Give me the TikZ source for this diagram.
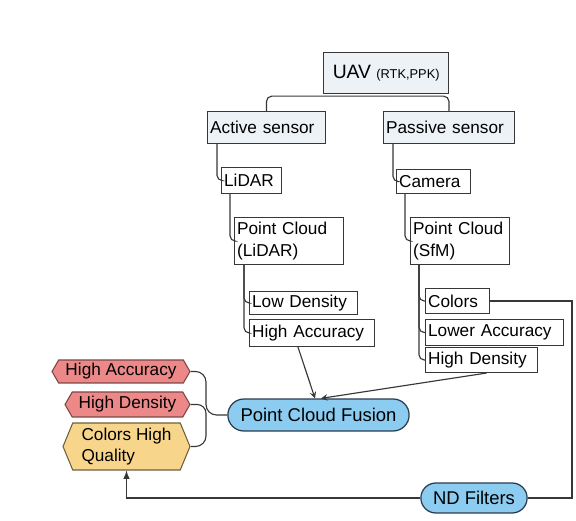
\documentclass[tikz,border=0pt]{standalone}
\usepackage{fontspec}
\setmainfont{Liberation Sans}
\usetikzlibrary{shapes.symbols,shapes.misc}
\definecolor{linegray}{RGB}{55,55,55}
\definecolor{boxgray}{RGB}{236,242,246}
\definecolor{redfill}{RGB}{236,136,136}
\definecolor{redline}{RGB}{125,70,70}
\definecolor{yelfill}{RGB}{247,214,140}
\definecolor{yelline}{RGB}{110,95,60}
\definecolor{bluefill}{RGB}{140,204,240}
\definecolor{blueline}{RGB}{40,58,78}
\tikzset{
	box/.style={draw=linegray,line width=0.6pt,fill=white,anchor=north west,inner xsep=1.5pt,inner ysep=1pt,align=left,font=\fontsize{9.8}{12.5}\selectfont},
	topbox/.style={box,fill=boxgray},
	outp/.style={signal,signal to=west and east,signal pointer angle=120,line width=0.6pt,inner sep=1pt,font=\fontsize{9.8}{12}\selectfont},
	proc/.style={rounded rectangle,draw=blueline,fill=bluefill,line width=0.7pt,font=\fontsize{10.5}{12}\selectfont},
	link/.style={draw=linegray,line width=0.65pt,rounded corners=3pt}
}
\begin{document}
\begin{tikzpicture}[x=0.02cm,y=-0.02cm,>=stealth]
			\useasboundingbox (0,0) rectangle (576,521);
			% sensors tree
			\node[topbox,anchor=north west,align=center,minimum width=2.5cm,minimum height=0.82cm,line width=0.8pt] (uav) at (323,52) {\fontsize{11}{13}\selectfont UAV \fontsize{7.3}{9}\selectfont(RTK,PPK)};
			\node[topbox,text width=64.1pt,minimum height=0.64cm] (act) at (207,111) {Active sensor};
			\node[topbox,text width=71.5pt,minimum height=0.64cm] (pas) at (383,111) {Passive sensor};
			\node[box,text width=31.1pt,minimum height=0.52cm] (lidar) at (221,167) {LiDAR};
			\node[box,text width=59pt,minimum height=0.94cm] (pcl) at (234,217) {Point Cloud\\(LiDAR)};
			\node[box,text width=58.4pt,minimum height=0.46cm] (lowd) at (249,291) {Low Density};
			\node[box,text width=68.1pt,minimum height=0.54cm] (hacc) at (249,319) {High Accuracy};
			\node[box,text width=39.1pt,minimum height=0.48cm] (cam) at (396,169) {Camera};
			\node[box,text width=53.3pt,minimum height=0.94cm] (pcs) at (410,217) {Point Cloud\\(SfM)};
			\node[box,text width=33.4pt,minimum height=0.5cm] (col) at (425,288) {Colors};
			\node[box,text width=75.5pt,minimum height=0.52cm] (lacc) at (425,319) {Lower Accuracy};
			\node[box,text width=60.7pt,minimum height=0.5cm] (hden) at (425,347) {High Density};
			\draw[link] ([yshift=-1pt]uav.south) -| (act.north);
			\draw[link] ([yshift=-1pt]uav.south) -| (pas.north);
			\draw[link] ([xshift=0.2cm]act.south west) |- (lidar.west);
			\draw[link] ([xshift=0.18cm]lidar.south west) |- (pcl.west);
			\draw[link] ([xshift=0.2cm]pcl.south west) |- (lowd.west);
			\draw[link] ([xshift=0.2cm]pcl.south west) |- (hacc.west);
			\draw[link] ([xshift=0.2cm]pas.south west) |- (cam.west);
			\draw[link] ([xshift=0.18cm]cam.south west) |- (pcs.west);
			\draw[link] ([xshift=0.18cm]pcs.south west) |- (col.west);
			\draw[link] ([xshift=0.18cm]pcs.south west) |- (lacc.west);
			\draw[link] ([xshift=0.18cm]pcs.south west) |- (hden.west);
			% fusion and results
			\node[proc,minimum width=3.86cm,minimum height=0.64cm] (pcf) at (318.5,415) {Point Cloud Fusion};
			\node[proc,minimum width=2.36cm,minimum height=0.6cm] (ndf) at (474,498) {ND Filters};
			\node[outp,draw=redline,fill=redfill,minimum width=2.76cm,minimum height=0.46cm] (oha) at (121,371.5) {High Accuracy};
			\node[outp,draw=redline,fill=redfill,minimum width=2.5cm,minimum height=0.5cm] (ohd) at (127.5,404.5) {High Density};
			\node[outp,draw=yelline,fill=yelfill,signal pointer angle=135,minimum width=2.54cm,minimum height=0.94cm,align=left] (ochq) at (126.5,446.5) {Colors High\\Quality};
			\coordinate (bus) at (206,415);
			\draw[link,->] ([xshift=-0.28cm]hacc.south) -- ([xshift=-0.07cm]pcf.north);
			\draw[link,->] ([xshift=0.1cm]hden.south) -- ([xshift=0.05cm]pcf.north);
			\draw[link,rounded corners=6pt] (oha.east) -| (bus) -- (pcf.west);
			\draw[link,rounded corners=5pt] (ohd.east) -| (bus);
			\draw[link,rounded corners=6pt] (ochq.east) -| (bus);
			\draw[link,rounded corners=0pt] (col.east) -- ++(82,0) |- (ndf.east);
			\draw[link,rounded corners=0pt,-latex] (ndf.west) -| (ochq.south);
		\end{tikzpicture}
\end{document}
